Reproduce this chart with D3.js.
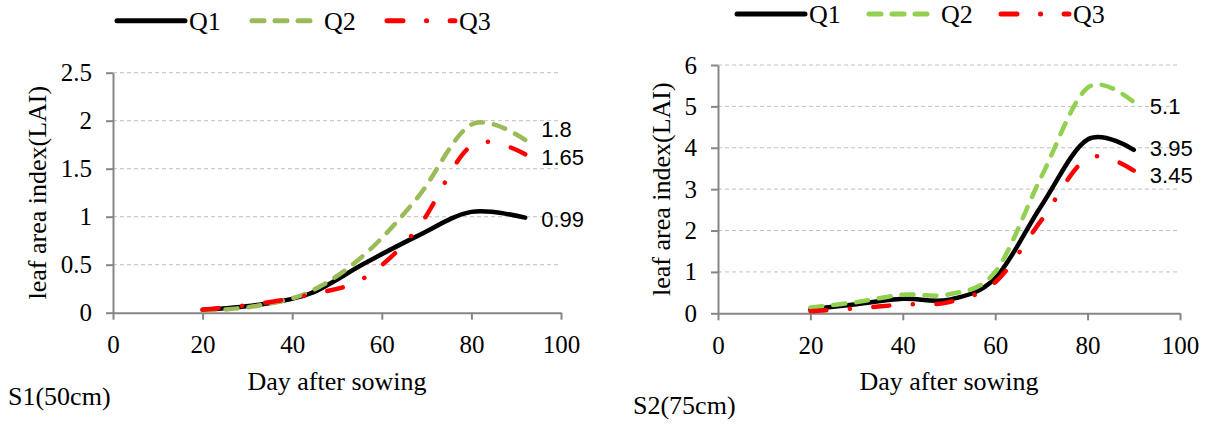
<!DOCTYPE html>
<html>
<head>
<meta charset="utf-8">
<script src="https://cdn.jsdelivr.net/npm/d3@7"></script>
<style>
  body { margin: 0; background: #fff; }
  text { font-family: "Liberation Serif", "Times New Roman", serif; fill: #000; }
  text.val { font-family: "Liberation Sans", Arial, sans-serif; }
</style>
</head>
<body>
<svg id="chart" width="1211" height="425"></svg>
<script>
// days after sowing
var s1Days = [20, 32, 44, 56, 68, 80, 92];
var s2Days = [20, 30, 40, 50, 60, 70, 80, 90];

// S1 (50cm)
var s1Q1 = [0.03, 0.08, 0.2, 0.51, 0.8, 1.05, 0.99];
var s1Q2 = [0.02, 0.07, 0.22, 0.6, 1.2, 1.96, 1.8];
var s1Q3 = [0.03, 0.09, 0.19, 0.36, 0.88, 1.74, 1.65];

// S2 (75cm)
var s2Q1 = [0.1, 0.22, 0.35, 0.33, 0.85, 2.6, 4.2, 3.95];
var s2Q2 = [0.14, 0.27, 0.45, 0.46, 1.0, 3.3, 5.45, 5.1];
var s2Q3 = [0.05, 0.12, 0.21, 0.27, 0.75, 2.25, 3.75, 3.45];

var s1Labels = ["0.99", "1.8", "1.65"];
var s2Labels = ["3.95", "5.1", "3.45"];

var xTicks = [0, 20, 40, 60, 80, 100];
var s1Ticks = [0, 0.5, 1, 1.5, 2, 2.5];
var s2Ticks = [0, 1, 2, 3, 4, 5, 6];

var seriesNames = ["Q1", "Q2", "Q3"];

var serif = '"Liberation Serif", "Times New Roman", serif';

var svg = d3.select("#chart");
svg.append("rect").attr("width", 1211).attr("height", 425).attr("fill", "#fff");

function styleFor(i, green) {
    if (i == 0) return { color: "#000", dash: null };
    if (i == 1) return { color: green, dash: "12,11" };
    return { color: "#ff0000", dash: "16,23.5,0.1,23.5" };
}

function drawPanel(p) {
    var g = svg.append("g");

    var x = d3.scaleLinear().domain([0, 100]).range([p.left, p.right]);
    var y = d3.scaleLinear().domain([0, p.yMax]).range([p.bottom, p.top]);

    // gridlines
    g.append("g").selectAll("line")
        .data(p.yTicks.slice(1))
        .join("line")
        .attr("x1", p.left).attr("x2", p.right)
        .attr("y1", function (d) { return y(d); })
        .attr("y2", function (d) { return y(d); })
        .attr("stroke", "#c0c0c0")
        .attr("stroke-width", 1)
        .attr("stroke-dasharray", "4,3");

    // axes
    var yAxis = d3.axisLeft(y)
        .tickValues(p.yTicks)
        .tickSize(7).tickSizeOuter(0).tickPadding(14)
        .tickFormat(function (d) { return String(d); });
    var xAxis = d3.axisBottom(x)
        .tickValues(xTicks)
        .tickSize(7).tickSizeOuter(0).tickPadding(16)
        .tickFormat(function (d) { return String(d); });

    var ya = g.append("g").attr("transform", "translate(" + p.left + ",0)").call(yAxis);
    var xa = g.append("g").attr("transform", "translate(0," + p.bottom + ")").call(xAxis);
    [ya, xa].forEach(function (a) {
        a.attr("font-family", null).attr("font-size", null);
        a.selectAll("path, line").attr("stroke", "#868686").attr("stroke-width", 2);
        a.selectAll("text").style("font-family", serif).style("font-size", "25px");
    });

    // series lines
    var line = d3.line()
        .x(function (d, i) { return x(p.days[i]); })
        .y(function (d) { return y(d); })
        .curve(d3.curveCardinal.tension(0));

    p.series.forEach(function (vals, i) {
        var st = styleFor(i, p.green);
        g.append("path")
            .datum(vals)
            .attr("d", line)
            .attr("fill", "none")
            .attr("stroke", st.color)
            .attr("stroke-width", 4.5)
            .attr("stroke-linecap", "round")
            .attr("stroke-linejoin", "round")
            .attr("stroke-dasharray", st.dash);
    });

    // end value labels
    p.series.forEach(function (vals, i) {
        var last = vals.length - 1;
        g.append("text")
            .attr("class", "val")
            .attr("x", x(p.days[last]) + 16)
            .attr("y", y(vals[last]) + p.labelDy[i])
            .attr("dominant-baseline", "central")
            .style("font-size", "22px")
            .text(p.labels[i]);
    });

    // legend
    seriesNames.forEach(function (name, i) {
        var st = styleFor(i, p.green);
        var lx = p.legendX + i * p.legendStep;
        g.append("line")
            .attr("x1", lx).attr("x2", lx + 68)
            .attr("y1", p.legendY).attr("y2", p.legendY)
            .attr("stroke", st.color)
            .attr("stroke-width", 5)
            .attr("stroke-linecap", "round")
            .attr("stroke-dasharray", st.dash);
        g.append("text")
            .attr("x", lx + 72)
            .attr("y", p.legendY + 9)
            .style("font-family", serif)
            .style("font-size", "26px")
            .text(name);
    });

    // axis titles
    g.append("text")
        .attr("x", (p.left + p.right) / 2)
        .attr("y", 390)
        .attr("text-anchor", "middle")
        .style("font-family", serif)
        .style("font-size", "26px")
        .text("Day after sowing");

    g.append("text")
        .attr("transform", "translate(" + p.yTitleX + "," + (p.top + p.bottom) / 2 + ") rotate(-90)")
        .attr("text-anchor", "middle")
        .attr("dominant-baseline", "central")
        .style("font-family", serif)
        .style("font-size", "26px")
        .text("leaf area index(LAI)");

    g.append("text")
        .attr("x", p.capX)
        .attr("y", p.capY)
        .style("font-family", serif)
        .style("font-size", "26px")
        .text(p.caption);
}

drawPanel({
    left: 113, right: 561, top: 72.7, bottom: 312.7,
    yMax: 2.5, yTicks: s1Ticks, days: s1Days,
    series: [s1Q1, s1Q2, s1Q3], labels: s1Labels,
    labelDy: [2, -10, 3],
    green: "#9bbb59",
    legendX: 117, legendY: 20.7, legendStep: 135,
    yTitleX: 37, caption: "S1(50cm)", capX: 8, capY: 405
});

drawPanel({
    left: 718, right: 1180, top: 65, bottom: 313.3,
    yMax: 6, yTicks: s2Ticks, days: s2Days,
    series: [s2Q1, s2Q2, s2Q3], labels: s2Labels,
    labelDy: [-1.5, 4, 4.5],
    green: "#92d050",
    legendX: 737, legendY: 14, legendStep: 132,
    yTitleX: 661, caption: "S2(75cm)", capX: 633, capY: 414
});
</script>
</body>
</html>
